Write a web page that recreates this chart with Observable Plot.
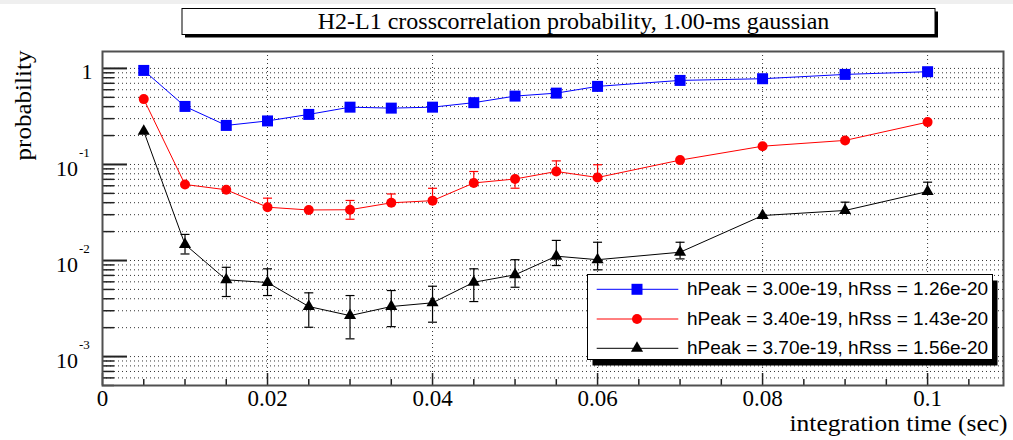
<!DOCTYPE html>
<html>
<head>
<meta charset="utf-8">
<script src="https://cdn.jsdelivr.net/npm/d3@7"></script>
<script src="https://cdn.jsdelivr.net/npm/@observablehq/plot@0.6"></script>
<style>
  html, body { margin: 0; padding: 0; background: #fff; overflow: hidden; }
  #wrap { position: relative; width: 1013px; height: 440px; background: #fff; }
  #topband { position: absolute; left: 0; top: 0; width: 1013px; height: 4px; background: #efefef; }
  #overlay { position: absolute; left: 0; top: 0; pointer-events: none; }
  #chart svg { display: block; }
</style>
</head>
<body>
<div id="wrap">
  <div id="chart"></div>
  <div id="topband"></div>
  <svg id="overlay" width="1013" height="440"></svg>
</div>
<script>
// ---------------- data ----------------
const titleText = "H2-L1 crosscorrelation probability, 1.00-ms gaussian";
const xTitle = "integration time (sec)";
const yTitle = "probability";

const times = [0.005, 0.01, 0.015, 0.02, 0.025, 0.03, 0.035, 0.04, 0.045, 0.05, 0.055, 0.06, 0.07, 0.08, 0.09, 0.1];

const probBlue  = [0.953, 0.402, 0.255, 0.284, 0.332, 0.395, 0.386, 0.395, 0.44, 0.515, 0.553, 0.65, 0.75, 0.781, 0.866, 0.924];
const probRed   = [0.479, 0.0619, 0.0545, 0.0359, 0.0336, 0.0338, 0.0399, 0.042, 0.0642, 0.0706, 0.0845, 0.0732, 0.111, 0.155, 0.178, 0.276];
const probBlack = [0.222, 0.0147, 0.0063, 0.0059, 0.00332, 0.00267, 0.00332, 0.00363, 0.00594, 0.0071, 0.0111, 0.0102, 0.0122, 0.0294, 0.0332, 0.0523];

// visible error-bar ends (null = not visible)
const redUpper   = [null, null, null, 0.0446, null, 0.0422, 0.0493, 0.0565, 0.0845, null, 0.109, 0.0993, null, null, null, null];
const redLower   = [null, null, null, null, null, 0.0269, null, null, null, 0.0566, null, null, null, null, null, null];
const blackUpper = [null, 0.0187, 0.0085, 0.0082, 0.00461, 0.00432, 0.00487, 0.0054, 0.0082, 0.0102, 0.0162, 0.0155, 0.0155, null, 0.0405, 0.0654];
const blackLower = [null, 0.0117, 0.00422, 0.00432, 0.00202, 0.00153, 0.00205, 0.00228, 0.00374, 0.00527, 0.00887, 0.008, 0.0104, null, null, null];

const legendLabels = [
  "hPeak = 3.00e-19, hRss = 1.26e-20",
  "hPeak = 3.40e-19, hRss = 1.43e-20",
  "hPeak = 3.70e-19, hRss = 1.56e-20"
];
const seriesColors  = ["#0000ff", "#ff0000", "#000000"];
const seriesSymbols = ["square", "circle", "triangle"];
const seriesRadius  = [6.2, 5, 4.5];

const xTickValues = [0, 0.02, 0.04, 0.06, 0.08, 0.1];
const xTickLabels = ["0", "0.02", "0.04", "0.06", "0.08", "0.1"];
const yTickValues = [0.001, 0.01, 0.1, 1];
const yTickBase   = ["10", "10", "10", "1"];
const yTickExp    = ["-3", "-2", "-1", ""];

// ---------------- axis structure ----------------
const yDomain = [5e-4, 1.5];
const xDomain = [0, 0.1092];
const yMinor = [1e-4, 1e-3, 1e-2, 1e-1]
  .flatMap(d => [2, 3, 4, 5, 6, 7, 8, 9].map(k => +(k * d).toPrecision(3)))
  .filter(v => v >= yDomain[0] && v <= yDomain[1]);
const yGrid = yMinor.concat(yTickValues);
const xMinor = d3.range(1, 22).map(i => +(i * 0.005).toFixed(3)).filter(v => !xTickValues.includes(v));

const mL = 102, mR = 10, mT = 51, mB = 55, W = 1013, H = 440;
const frameW = W - mL - mR, frameH = H - mT - mB;

function rows(vals) { return times.map((t, i) => ({t, v: vals[i]})); }
function errRows(vals, bounds) {
  return times.map((t, i) => ({t, v: vals[i], b: bounds[i]})).filter(d => d.b != null);
}
const capSymbol = { draw(ctx) { ctx.moveTo(-4.5, 0); ctx.lineTo(4.5, 0); } };

const series = [probBlue, probRed, probBlack];
const errs = [
  [],
  errRows(probRed, redUpper).concat(errRows(probRed, redLower)),
  errRows(probBlack, blackUpper).concat(errRows(probBlack, blackLower))
];

const serif = "'Liberation Serif', 'Times New Roman', serif";
const sans = "'Liberation Sans', Arial, sans-serif";

const marks = [
  Plot.ruleY(yGrid, {stroke: "#333", strokeWidth: 1, strokeDasharray: "1,3"}),
  Plot.ruleX(xTickValues.slice(1), {stroke: "#333", strokeWidth: 1, strokeDasharray: "1,3"}),
  Plot.tickY(yTickValues, {stroke: "#222", strokeWidth: 2, insetRight: frameW - 25}),
  Plot.tickY(yMinor, {stroke: "#222", strokeWidth: 1.5, insetRight: frameW - 12}),
  Plot.tickX(xTickValues, {stroke: "#222", strokeWidth: 1.5, insetTop: frameH - 12}),
  Plot.tickX(xMinor, {stroke: "#222", strokeWidth: 1.5, insetTop: frameH - 6})
];

series.forEach((vals, s) => {
  marks.push(Plot.line(rows(vals), {x: "t", y: "v", stroke: seriesColors[s], strokeWidth: 1}));
  if (errs[s].length) {
    marks.push(Plot.ruleX(errs[s], {x: "t", y1: "v", y2: "b", stroke: seriesColors[s], strokeWidth: 1.2}));
    marks.push(Plot.dot(errs[s], {x: "t", y: "b", symbol: capSymbol, stroke: seriesColors[s], strokeWidth: 1.2, fill: "none"}));
  }
});
series.forEach((vals, s) => {
  marks.push(Plot.dot(rows(vals), {x: "t", y: "v", symbol: seriesSymbols[s], r: seriesRadius[s], fill: seriesColors[s], stroke: "none"}));
});

// tick labels
marks.push(Plot.text(xTickValues, {x: d => d, text: (d, i) => xTickLabels[i], frameAnchor: "bottom", dy: 13, lineAnchor: "middle", fontSize: 23, fontFamily: serif, fill: "#000"}));
const plainY = yTickValues.map((v, i) => ({v, base: yTickBase[i], exp: yTickExp[i]}));
marks.push(Plot.text(plainY.filter(d => !d.exp), {y: "v", text: "base", frameAnchor: "left", textAnchor: "end", dx: -10, dy: 4, lineAnchor: "middle", fontSize: 22, fontFamily: serif, fill: "#000"}));
marks.push(Plot.text(plainY.filter(d => d.exp), {y: "v", text: "base", frameAnchor: "left", textAnchor: "end", dx: -24.5, dy: 4, lineAnchor: "middle", fontSize: 22, fontFamily: serif, fill: "#000"}));
marks.push(Plot.text(plainY.filter(d => d.exp), {y: "v", text: "exp", frameAnchor: "left", textAnchor: "start", dx: -23.5, dy: -12, lineAnchor: "middle", fontSize: 13, fontFamily: serif, fill: "#000"}));

// axis titles
marks.push(Plot.text([xTitle], {text: d => d, frameAnchor: "bottom-right", textAnchor: "end", lineAnchor: "bottom", dx: 4, dy: 45.7, fontSize: 23, fontFamily: serif, fill: "#000"}));
marks.push(Plot.text([yTitle], {text: d => d, frameAnchor: "top-left", textAnchor: "end", lineAnchor: "bottom", rotate: -90, dx: -72, dy: -1, fontSize: 23, fontFamily: serif, fill: "#000"}));

marks.push(Plot.frame({stroke: "#505050", strokeWidth: 2}));

const chart = Plot.plot({
  width: W, height: H,
  marginLeft: mL, marginRight: mR, marginTop: mT, marginBottom: mB,
  style: {background: "transparent", overflow: "visible"},
  x: {domain: xDomain, axis: null},
  y: {type: "log", domain: yDomain, axis: null},
  marks
});
document.getElementById("chart").appendChild(chart);

// stretch axis titles to the reference's widths
d3.select(chart).selectAll("text").each(function () {
  if (this.textContent === xTitle) { this.setAttribute("textLength", 218); this.setAttribute("lengthAdjust", "spacingAndGlyphs"); }
  if (this.textContent === yTitle) { this.setAttribute("textLength", 110); this.setAttribute("lengthAdjust", "spacingAndGlyphs"); }
});

// ---------------- title and legend ----------------
const ov = d3.select("#overlay");
// title box with shadow
ov.append("rect").attr("x", 185).attr("y", 11.5).attr("width", 753).attr("height", 26).attr("fill", "#000");
ov.append("rect").attr("x", 182).attr("y", 8.5).attr("width", 753).attr("height", 26).attr("fill", "#fff").attr("stroke", "#000").attr("stroke-width", 1);
ov.append("text").attr("x", 573.5).attr("y", 29.3).attr("text-anchor", "middle")
  .attr("font-family", serif).attr("font-size", 24).attr("fill", "#000").text(titleText);

// legend box with shadow
ov.append("rect").attr("x", 592.5).attr("y", 280.5).attr("width", 405).attr("height", 85).attr("fill", "#000");
ov.append("rect").attr("x", 587.5).attr("y", 274.5).attr("width", 405).attr("height", 85).attr("fill", "#fff").attr("stroke", "#000").attr("stroke-width", 1);
const rowY = [289.3, 319, 348.3];
legendLabels.forEach((lab, s) => {
  const y = rowY[s];
  ov.append("line").attr("x1", 596.7).attr("x2", 678.3).attr("y1", y).attr("y2", y)
    .attr("stroke", seriesColors[s]).attr("stroke-width", 1);
  const symType = {square: d3.symbolSquare, circle: d3.symbolCircle, triangle: d3.symbolTriangle}[seriesSymbols[s]];
  ov.append("path").attr("transform", `translate(637,${y})`)
    .attr("d", d3.symbol(symType, Math.PI * seriesRadius[s] * seriesRadius[s])())
    .attr("fill", seriesColors[s]);
  ov.append("text").attr("x", 687).attr("y", y + 5.8).attr("font-family", sans).attr("font-size", 19)
    .attr("fill", "#000").text(lab);
});
</script>
</body>
</html>
